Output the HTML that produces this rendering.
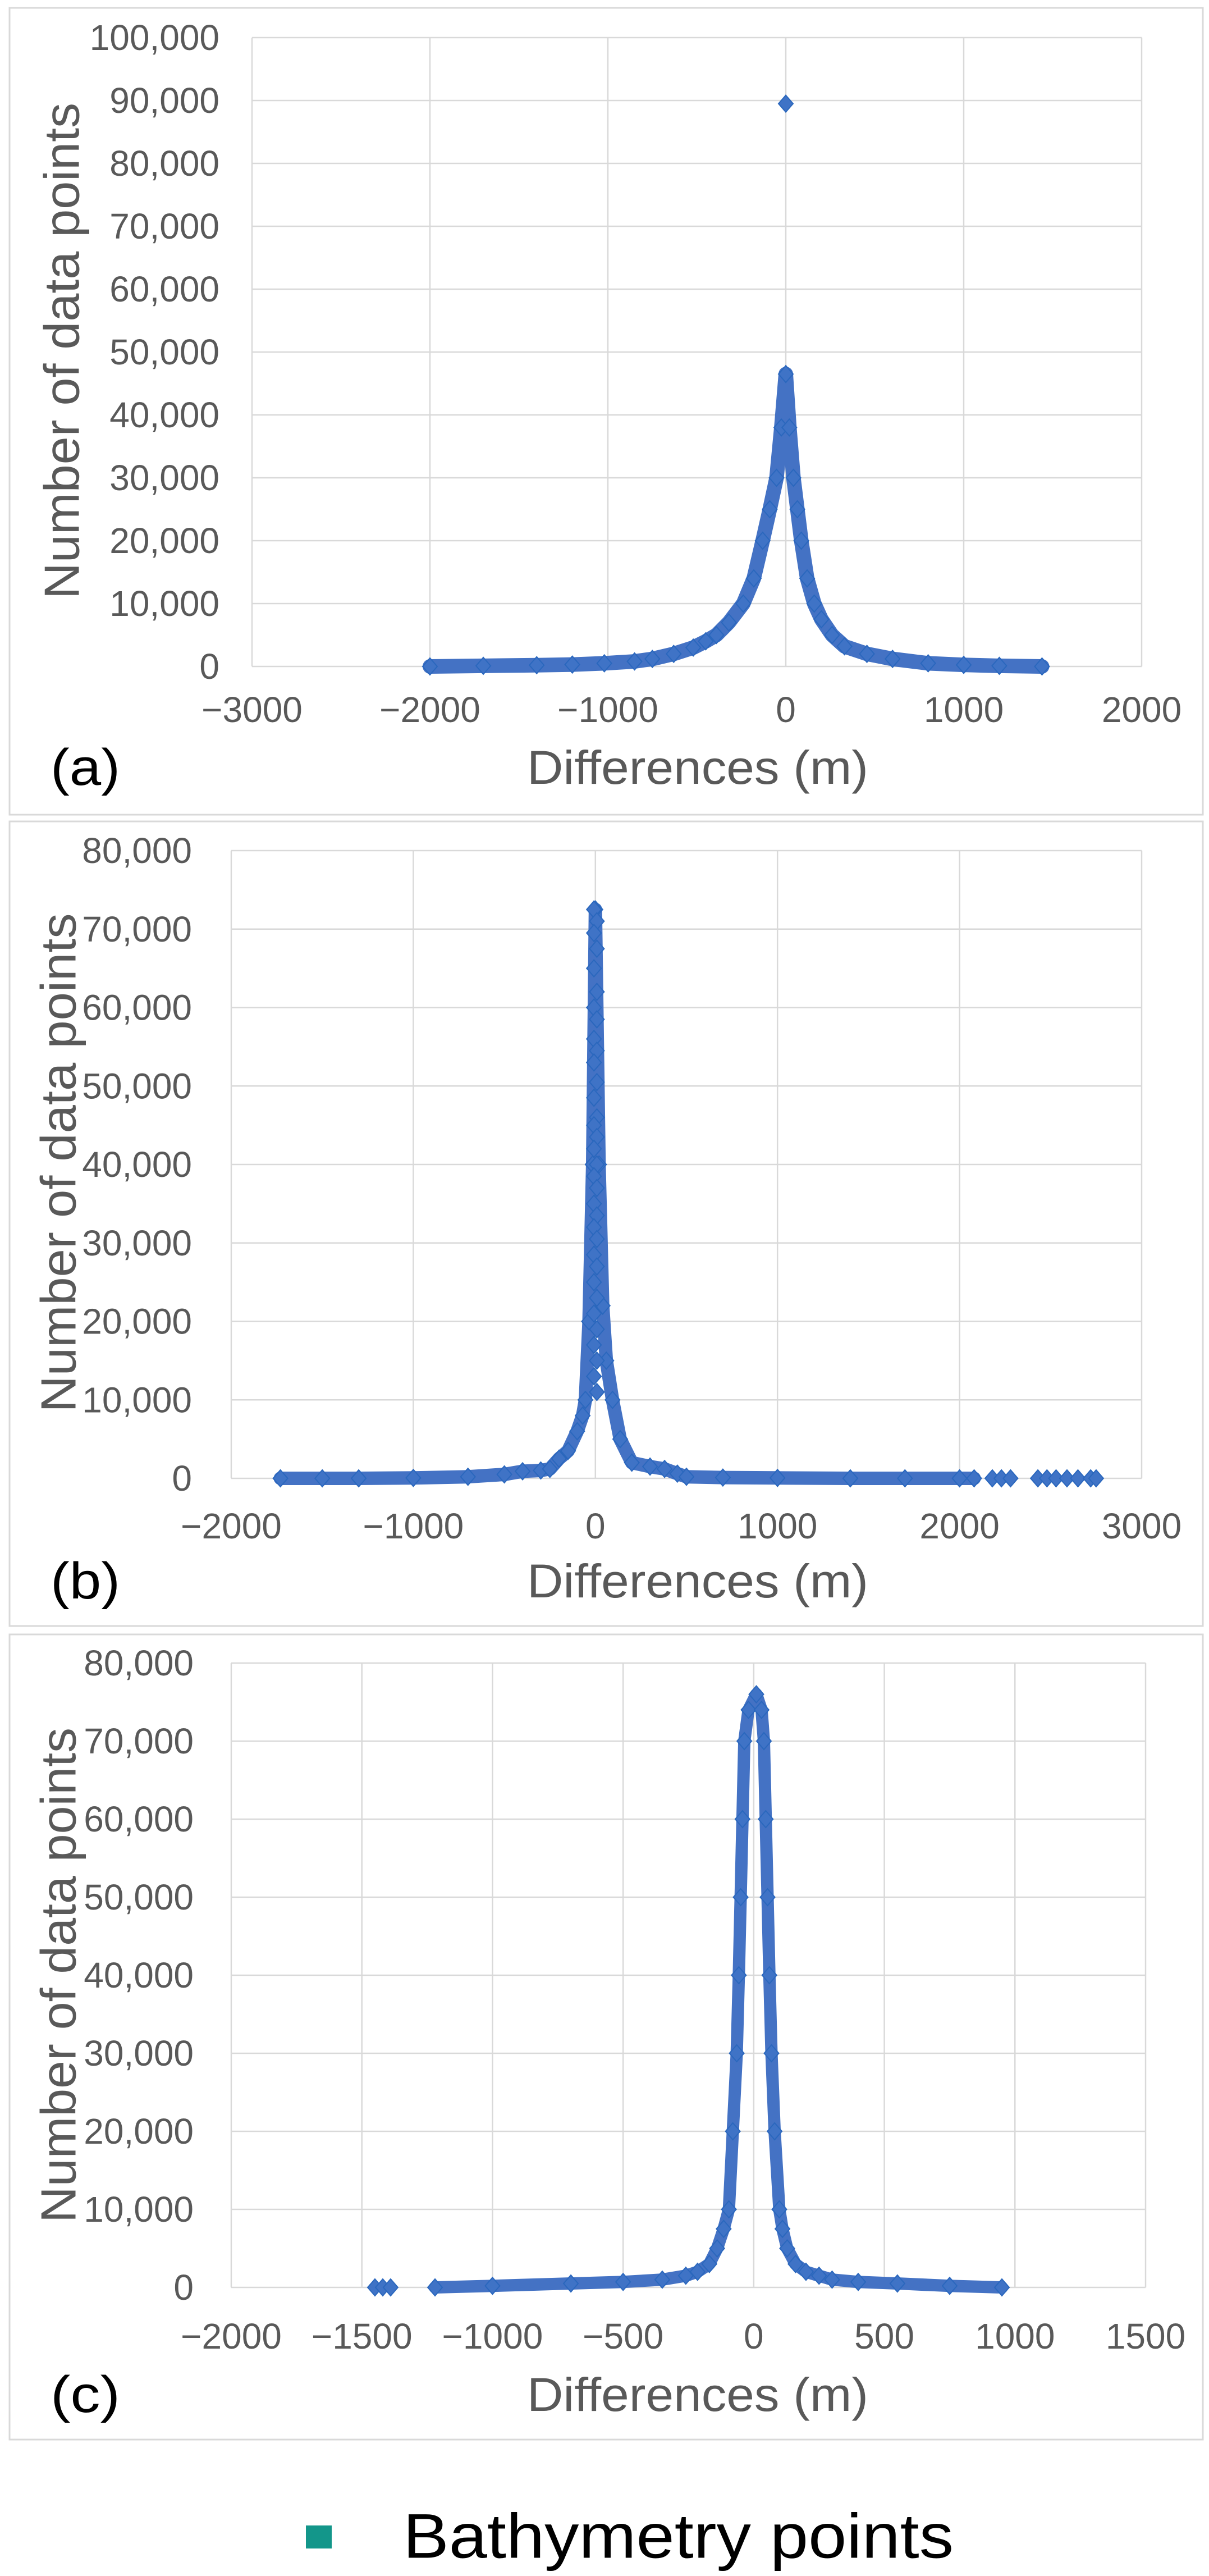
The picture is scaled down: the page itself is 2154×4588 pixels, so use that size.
<!DOCTYPE html>
<html><head><meta charset="utf-8"><title>Histograms of differences</title>
<style>
html,body{margin:0;padding:0;background:#fff;}
svg{display:block;font-family:"Liberation Sans",Arial,sans-serif;}
</style></head>
<body>
<svg id="fig" width="2154" height="4588" viewBox="0 0 2154 4588" xmlns="http://www.w3.org/2000/svg">
<rect x="0" y="0" width="2154" height="4588" fill="#fff"/>
</svg>
<script>
// ---- Panel (a) data ----
const aXTicks = [-3000, -2000, -1000, 0, 1000, 2000];
const aYTicks = [0, 10000, 20000, 30000, 40000, 50000, 60000, 70000, 80000, 90000, 100000];
const aX = [-2000, -1700, -1400, -1200, -1020, -850, -750, -630, -520, -450, -390, -320, -239, -180, -130, -90, -52, -25, 0, 20, 43, 65, 87, 120, 160, 200, 260, 330, 456, 600, 800, 1000, 1200, 1440];
const aY = [0, 100, 200, 300, 500, 800, 1200, 2000, 3000, 4000, 5000, 7000, 10000, 14000, 20000, 25000, 30000, 38000, 46500, 38000, 30000, 25000, 20000, 14000, 10000, 7500, 5000, 3200, 2000, 1200, 500, 250, 100, 0];
const aOutX = [0];
const aOutY = [89500];

// ---- Panel (b) data ----
const bXTicks = [-2000, -1000, 0, 1000, 2000, 3000];
const bYTicks = [0, 10000, 20000, 30000, 40000, 50000, 60000, 70000, 80000];
const bX = [-1730, -1500, -1300, -1000, -700, -500, -400, -300, -250, -200, -150, -100, -70, -55, -35, -15, 0, 20, 40, 60, 94, 136, 200, 300, 380, 450, 500, 700, 1000, 1400, 1700, 2000, 2080];
const bY = [0, 0, 0, 50, 200, 500, 900, 1000, 1200, 2500, 3500, 6000, 8000, 10000, 20000, 40000, 72500, 40000, 22000, 15000, 10000, 5000, 2000, 1500, 1200, 600, 200, 100, 50, 0, 0, 0, 0];
const bStemY = [72500, 71000, 69500, 67500, 65000, 62000, 60000, 58500, 56000, 54500, 53000, 50500, 48500, 46000, 45000, 43500, 42000, 40000, 38500, 37000, 35000, 33500, 32000, 30500, 28500, 27000, 25000, 23000, 21000, 19000, 17000, 15000, 13000, 11000];
const bOutX = [2180, 2230, 2280, 2430, 2480, 2530, 2590, 2650, 2720, 2750];
const bOutY = [0, 0, 0, 0, 0, 0, 0, 0, 0, 0];

// ---- Panel (c) data ----
const cXTicks = [-2000, -1500, -1000, -500, 0, 500, 1000, 1500];
const cYTicks = [0, 10000, 20000, 30000, 40000, 50000, 60000, 70000, 80000];
const cX = [-1220, -1000, -700, -500, -350, -260, -215, -170, -140, -115, -95, -80, -65, -57, -50, -43, -36, -20, 10, 30, 39, 46, 53, 60, 68, 80, 98, 110, 128, 160, 200, 250, 300, 400, 550, 750, 950];
const cY = [0, 200, 500, 700, 1000, 1500, 2000, 3000, 5000, 7500, 10000, 20000, 30000, 40000, 50000, 60000, 70000, 74000, 76000, 74000, 70000, 60000, 50000, 40000, 30000, 20000, 10000, 7500, 5000, 3000, 2000, 1500, 1000, 700, 500, 200, 0];
const cOutX = [-1450, -1420, -1390];
const cOutY = [0, 0, 0];

const NS = "http://www.w3.org/2000/svg";
const svg = document.getElementById("fig");
function mk(tag, attrs, parent) {
  const e = document.createElementNS(NS, tag);
  for (const k in attrs) e.setAttribute(k, attrs[k]);
  (parent || svg).appendChild(e);
  return e;
}
function fmt(v) { return v.toLocaleString("en-US"); }
function xfmt(v) { return v < 0 ? "\u2212" + Math.abs(v) : String(v); }

function panel(cfg) {
  const g = mk("g", {});
  
  
  const border = mk("rect", {x: cfg.box[0], y: cfg.box[1], width: cfg.box[2], height: cfg.box[3], fill: "#fff", stroke: "#d9d9d9", "stroke-width": 3}, g);
  
  
  const xMin = cfg.xTicks[0], xMax = cfg.xTicks[cfg.xTicks.length - 1];
  const yMax = cfg.yTicks[cfg.yTicks.length - 1];
  const sx = v => cfg.L + (v - xMin) / (xMax - xMin) * (cfg.R - cfg.L);
  const sy = v => cfg.B - v / yMax * (cfg.B - cfg.T);
  // gridlines
  cfg.yTicks.forEach(t => {
    const l = mk("line", {x1: cfg.L, x2: cfg.R, y1: sy(t), y2: sy(t), stroke: "#d9d9d9", "stroke-width": 2.5}, g);
    
    
    const tx = mk("text", {x: cfg.yLabX, y: sy(t), "text-anchor": "end", "dominant-baseline": "central", "font-size": 64, fill: "#595959"}, g);
    tx.textContent = fmt(t);
    
    
  });
  cfg.xTicks.forEach(t => {
    const l = mk("line", {x1: sx(t), x2: sx(t), y1: cfg.T, y2: cfg.B, stroke: "#d9d9d9", "stroke-width": 2.5}, g);
    
    
    const tx = mk("text", {x: sx(t), y: cfg.xLabY, "text-anchor": "middle", "dominant-baseline": "central", "font-size": 64, fill: "#595959"}, g);
    tx.textContent = xfmt(t);
    
    
  });
  // series band
  const pts = cfg.xs.map((x, i) => sx(x) + "," + sy(cfg.ys[i])).join(" ");
  const band = mk("polyline", {points: pts, fill: "none", stroke: "#4472c4", "stroke-width": cfg.band, "stroke-linejoin": "round", "stroke-linecap": "round"}, g);
  
  
  function diamond(x, y) {
    const cx = sx(x), cy = sy(y);
    const d = mk("polygon", {points: `${cx},${cy-15} ${cx+13},${cy} ${cx},${cy+15} ${cx-13},${cy}`, fill: "#3f73c6", stroke: "#2a67bd", "stroke-width": 2}, g);
    
    
  }
  cfg.xs.forEach((x, i) => diamond(x, cfg.ys[i]));
  (cfg.stemY || []).forEach((y, i) => diamond(i % 2 ? 8 : -8, y));
  cfg.outX.forEach((x, i) => diamond(x, cfg.outY[i]));
  // axis titles
  const yt = mk("text", {x: 0, y: 0, transform: `translate(${cfg.yTitle[0]},${cfg.yTitle[1]}) rotate(-90)`, "text-anchor": "middle", "dominant-baseline": "central", "font-size": 88, fill: "#595959", textLength: cfg.yTitle[2], lengthAdjust: "spacingAndGlyphs"}, g);
  yt.textContent = "Number of data points";
  
  
  const xt = mk("text", {x: 1243, y: cfg.xTitleY, "text-anchor": "middle", "dominant-baseline": "central", "font-size": 84, fill: "#595959", textLength: 608, lengthAdjust: "spacingAndGlyphs"}, g);
  xt.textContent = "Differences (m)";
  
  
  const pl = mk("text", {x: 90, y: cfg.xTitleY, "dominant-baseline": "central", "font-size": 92, fill: "#000", textLength: 124, lengthAdjust: "spacingAndGlyphs"}, g);
  pl.textContent = cfg.label;
  
  
}

panel({name: "panel-a", box: [17, 14, 2126, 1437], L: 449, R: 2034, T: 67, B: 1187,
  xTicks: aXTicks, yTicks: aYTicks, xs: aX, ys: aY, outX: aOutX, outY: aOutY, band: 26,
  yLabX: 391, xLabY: 1264, xTitleY: 1367, yTitle: [110, 625, 884], label: "(a)"});
panel({name: "panel-b", box: [17, 1463, 2126, 1433], L: 412, R: 2034, T: 1515, B: 2633,
  xTicks: bXTicks, yTicks: bYTicks, xs: bX, ys: bY, stemY: bStemY, outX: bOutX, outY: bOutY, band: 24,
  yLabX: 342, xLabY: 2718, xTitleY: 2816, yTitle: [104, 2071, 889], label: "(b)"});
panel({name: "panel-c", box: [17, 2911, 2126, 1434], L: 412, R: 2041, T: 2962, B: 4074,
  xTicks: cXTicks, yTicks: cYTicks, xs: cX, ys: cY, outX: cOutX, outY: cOutY, band: 22,
  yLabX: 345, xLabY: 4161, xTitleY: 4265, yTitle: [104, 3518, 882], label: "(c)"});

// legend
const lg = mk("g", {});


const sw = mk("rect", {x: 545, y: 4498, width: 46, height: 41, fill: "#13968a"}, lg);


const lt = mk("text", {x: 718, y: 4517, "dominant-baseline": "central", "font-size": 112, fill: "#000", textLength: 981, lengthAdjust: "spacingAndGlyphs"}, lg);
lt.textContent = "Bathymetry points";


</script>
</body></html>
